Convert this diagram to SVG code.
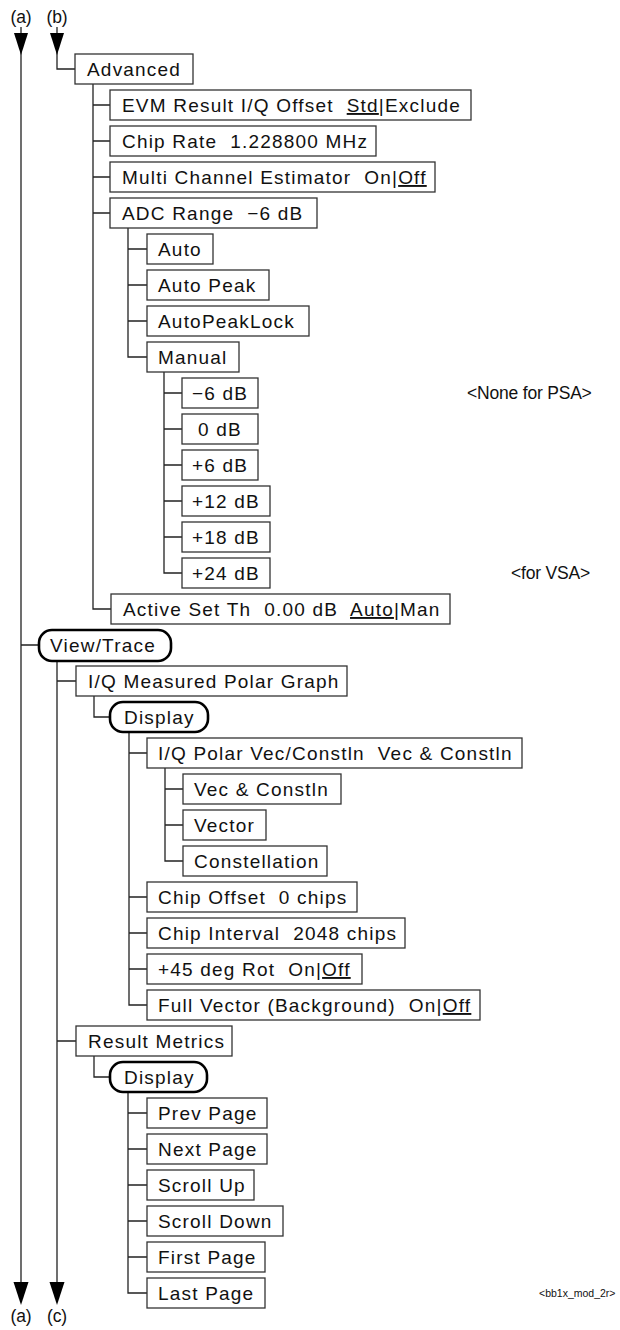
<svg xmlns="http://www.w3.org/2000/svg" width="620" height="1330" viewBox="0 0 620 1330">
<style>
.b{fill:#fff;stroke:#333;stroke-width:1.3}
.p{fill:#fff;stroke:#000;stroke-width:2.6}
.t{font-family:"Liberation Sans",Arial,sans-serif;font-size:19px;letter-spacing:1.2px;fill:#111}
.n{font-family:"Liberation Sans",Arial,sans-serif;font-size:17.5px;letter-spacing:-0.2px;fill:#111}
.s{font-family:"Liberation Sans",Arial,sans-serif;font-size:10.5px;fill:#111}
.u{text-decoration:underline;text-decoration-thickness:1px;text-underline-offset:3px}
.c{fill:none;stroke:#222;stroke-width:1.3}
.a{fill:#000;stroke:none}
</style>
<rect width="620" height="1330" fill="#fff"/>
<g id="connectors">
<path class="c" d="M21 27V1283M21 645H39"/>
<path class="c" d="M57 27V69H75"/>
<path class="c" d="M93 84V609H111M93 105H110M93 141H110M93 177H110M93 213H110"/>
<path class="c" d="M128 228V357H147M128 249H147M128 285H147M128 321H147"/>
<path class="c" d="M164 372V573H182M164 393H182M164 429H182M164 465H182M164 501H182M164 537H182"/>
<path class="c" d="M57 661V1283M57 681H76M57 1041H76"/>
<path class="c" d="M94 696V717H110"/>
<path class="c" d="M129 732V1005H147M129 753H147M129 897H147M129 933H147M129 969H147"/>
<path class="c" d="M165 768V861H183M165 789H183M165 825H183"/>
<path class="c" d="M94 1056V1077H110"/>
<path class="c" d="M128 1092V1293H147M128 1113H147M128 1149H147M128 1185H147M128 1221H147M128 1257H147"/>
<polygon class="a" points="14,33 28,33 21,55"/>
<polygon class="a" points="50,33 64,33 57,55"/>
<polygon class="a" points="13.5,1282 28.5,1282 21,1305"/>
<polygon class="a" points="49.5,1282 64.5,1282 57,1305"/>
</g>
<g id="labels">
<text class="n" x="21" y="23" text-anchor="middle">(a)</text>
<text class="n" x="57" y="23" text-anchor="middle">(b)</text>
<text class="n" x="21" y="1322" text-anchor="middle">(a)</text>
<text class="n" x="57" y="1322" text-anchor="middle">(c)</text>
<text class="n" x="467" y="399">&lt;None for PSA&gt;</text>
<text class="n" x="511" y="579">&lt;for VSA&gt;</text>
<text class="s" x="539" y="1297">&lt;bb1x_mod_2r&gt;</text>
</g>
<g id="n-advanced"><rect class="b" x="75" y="54" width="118" height="30"/><text class="t" x="87" y="76">Advanced</text></g>
<g id="n-evm"><rect class="b" x="110" y="90" width="361" height="30"/><text class="t" x="122" y="112">EVM Result I/Q Offset&#160; <tspan class="u">Std</tspan>|Exclude</text></g>
<g id="n-chiprate"><rect class="b" x="110" y="126" width="266" height="30"/><text class="t" x="122" y="148">Chip Rate&#160; 1.228800 MHz</text></g>
<g id="n-multi"><rect class="b" x="110" y="162" width="325" height="30"/><text class="t" x="122" y="184">Multi Channel Estimator&#160; On|<tspan class="u">Off</tspan></text></g>
<g id="n-adc"><rect class="b" x="110" y="198" width="207" height="30"/><text class="t" x="122" y="220">ADC Range&#160; −6 dB</text></g>
<g id="n-auto"><rect class="b" x="147" y="234" width="66" height="30"/><text class="t" x="158" y="256">Auto</text></g>
<g id="n-autopeak"><rect class="b" x="147" y="270" width="122" height="30"/><text class="t" x="158" y="292">Auto Peak</text></g>
<g id="n-autopeaklock"><rect class="b" x="147" y="306" width="162" height="30"/><text class="t" x="158" y="328">AutoPeakLock</text></g>
<g id="n-manual"><rect class="b" x="147" y="342" width="92" height="30"/><text class="t" x="158" y="364">Manual</text></g>
<g id="n-m6"><rect class="b" x="182" y="378" width="76" height="30"/><text class="t" x="192" y="400">−6 dB</text></g>
<g id="n-0"><rect class="b" x="182" y="414" width="76" height="30"/><text class="t" x="198" y="436">0 dB</text></g>
<g id="n-p6"><rect class="b" x="182" y="450" width="76" height="30"/><text class="t" x="192" y="472">+6 dB</text></g>
<g id="n-p12"><rect class="b" x="182" y="486" width="88" height="30"/><text class="t" x="192" y="508">+12 dB</text></g>
<g id="n-p18"><rect class="b" x="182" y="522" width="88" height="30"/><text class="t" x="192" y="544">+18 dB</text></g>
<g id="n-p24"><rect class="b" x="182" y="558" width="88" height="30"/><text class="t" x="192" y="580">+24 dB</text></g>
<g id="n-activeset"><rect class="b" x="111" y="594" width="339" height="30"/><text class="t" x="123" y="616">Active Set Th&#160; 0.00 dB&#160; <tspan class="u">Auto</tspan>|Man</text></g>
<g id="n-viewtrace"><rect class="p" x="39" y="630" width="132" height="31" rx="13"/><text class="t" x="50" y="652">View/Trace</text></g>
<g id="n-iqmeas"><rect class="b" x="76" y="666" width="271" height="30"/><text class="t" x="88" y="688">I/Q Measured Polar Graph</text></g>
<g id="n-display1"><rect class="p" x="110" y="702" width="98" height="30" rx="13"/><text class="t" x="124" y="724">Display</text></g>
<g id="n-iqpolar"><rect class="b" x="147" y="738" width="375" height="30"/><text class="t" x="158" y="760">I/Q Polar Vec/Constln&#160; Vec &amp; Constln</text></g>
<g id="n-vecconst"><rect class="b" x="183" y="774" width="158" height="30"/><text class="t" x="194" y="796">Vec &amp; Constln</text></g>
<g id="n-vector"><rect class="b" x="183" y="810" width="83" height="30"/><text class="t" x="194" y="832">Vector</text></g>
<g id="n-constellation"><rect class="b" x="183" y="846" width="144" height="30"/><text class="t" x="194" y="868">Constellation</text></g>
<g id="n-chipoffset"><rect class="b" x="147" y="882" width="210" height="30"/><text class="t" x="158" y="904">Chip Offset&#160; 0 chips</text></g>
<g id="n-chipinterval"><rect class="b" x="147" y="918" width="258" height="30"/><text class="t" x="158" y="940">Chip Interval&#160; 2048 chips</text></g>
<g id="n-rot45"><rect class="b" x="147" y="954" width="215" height="30"/><text class="t" x="158" y="976">+45 deg Rot&#160; On|<tspan class="u">Off</tspan></text></g>
<g id="n-fullvector"><rect class="b" x="147" y="990" width="333" height="30"/><text class="t" x="158" y="1012">Full Vector (Background)&#160; On|<tspan class="u">Off</tspan></text></g>
<g id="n-resultmetrics"><rect class="b" x="76" y="1026" width="156" height="30"/><text class="t" x="88" y="1048">Result Metrics</text></g>
<g id="n-display2"><rect class="p" x="110" y="1062" width="97" height="30" rx="13"/><text class="t" x="124" y="1084">Display</text></g>
<g id="n-prevpage"><rect class="b" x="147" y="1098" width="120" height="30"/><text class="t" x="158" y="1120">Prev Page</text></g>
<g id="n-nextpage"><rect class="b" x="147" y="1134" width="120" height="30"/><text class="t" x="158" y="1156">Next Page</text></g>
<g id="n-scrollup"><rect class="b" x="147" y="1170" width="107" height="30"/><text class="t" x="158" y="1192">Scroll Up</text></g>
<g id="n-scrolldown"><rect class="b" x="147" y="1206" width="136" height="30"/><text class="t" x="158" y="1228">Scroll Down</text></g>
<g id="n-firstpage"><rect class="b" x="147" y="1242" width="118" height="30"/><text class="t" x="158" y="1264">First Page</text></g>
<g id="n-lastpage"><rect class="b" x="147" y="1278" width="118" height="30"/><text class="t" x="158" y="1300">Last Page</text></g>
</svg>
